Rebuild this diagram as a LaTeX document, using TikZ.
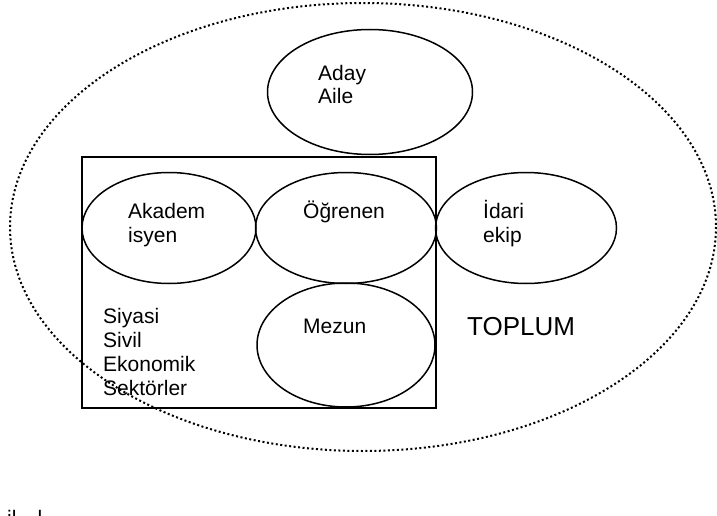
\documentclass[tikz,border=0pt]{standalone}
\usepackage{fontspec}
\setmainfont{Liberation Sans}
\usetikzlibrary{shapes.geometric}
\tikzset{
  oval/.style={draw, ellipse, line width=1.5pt, inner sep=0pt},
  yazi/.style={anchor=base west, inner sep=0pt, align=left,
    font=\fontsize{21}{24}\selectfont},
  toplumcizgi/.style={line width=2pt, dash pattern=on 2pt off 2.5pt}
}
\begin{document}
\begin{tikzpicture}[x=1pt,y=-1pt]
		\useasboundingbox (0,0) rectangle (717,516);
		% toplum
		\draw[toplumcizgi] (363,227) ellipse [x radius=353, y radius=224];
		\node (toplum)   at (467,335)  [anchor=base west, inner sep=0pt, font=\fontsize{26}{30}\selectfont] {TOPLUM};
		%
		\node (aday)   at (370,92)  [oval, minimum width=205, minimum height=125] {};
		\node (adayyazi)   at (318,104)  [yazi] {Aday\\Aile};
		%
		\draw[line width=1.5pt] (82,157) rectangle (436,408);
		%
		\node (akademisyen)   at (169,228)  [oval, minimum width=174, minimum height=111] {};
		\node (ogrenen)   at (346,228)  [oval, minimum width=181, minimum height=111] {};
		\node (idari)   at (526,228)  [oval, minimum width=181, minimum height=111] {};
		\node (mezun)   at (346,345)  [oval, minimum width=178, minimum height=124] {};
		%
		\node (akademyazi)   at (128,242)  [yazi] {Akadem\\isyen};
		\node (ogrenyazi)   at (303,218)  [yazi] {Öğrenen};
		\node (idariyazi)   at (483,242)  [yazi] {İdari\\ekip};
		\node (mezunyazi)   at (303,333)  [yazi] {Mezun};
		%
		\node (sektorler)   at (103,395)  [yazi] {Siyasi\\Sivil\\Ekonomik\\Sektörler};
		% alt satir, kesik
		\node (altyazi)   at (7,525)  [yazi] {il\hspace{21pt}l};
	\end{tikzpicture}
\end{document}
